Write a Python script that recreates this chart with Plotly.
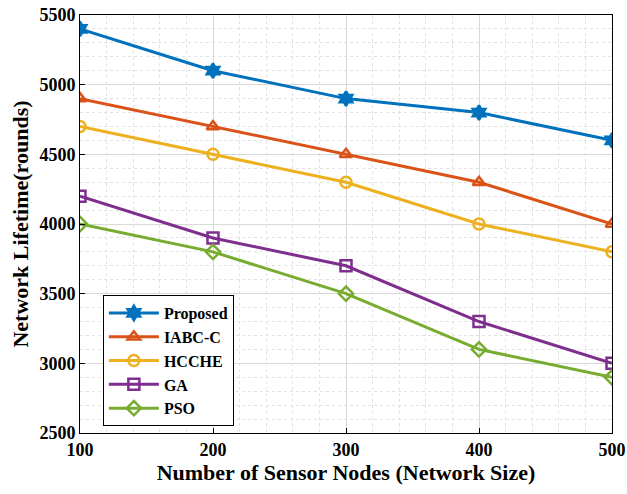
import plotly.graph_objects as go

nodes = [100, 200, 300, 400, 500]
proposed = [5400, 5100, 4900, 4800, 4600]
iabc_c = [4900, 4700, 4500, 4300, 4000]
hcche = [4700, 4500, 4300, 4000, 3800]
ga = [4200, 3900, 3700, 3300, 3000]
pso = [4000, 3800, 3500, 3100, 2900]

series = [
    ("Proposed", proposed, "#0072BD", "hexagram"),
    ("IABC-C", iabc_c, "#D95319", "triangle-up-open"),
    ("HCCHE", hcche, "#EDB120", "circle-open"),
    ("GA", ga, "#7E2F8E", "square-open"),
    ("PSO", pso, "#77AC30", "diamond-open"),
]

font = "Liberation Serif"
fig = go.Figure()
for name, vals, color, symbol in series:
    fig.add_trace(go.Scatter(
        x=nodes, y=vals, name=name, mode="lines+markers",
        line=dict(color=color, width=3),
        marker=dict(symbol=symbol, size=11, color=color,
                    line=dict(color=color, width=2.5)),
    ))

axis_common = dict(
    showline=True, linecolor="black", linewidth=1, mirror=True,
    ticks="inside", ticklen=5, tickcolor="black",
    showgrid=True, gridcolor="#d9d9d9", gridwidth=1,
    zeroline=False, automargin=False,
    tickfont=dict(family=font, size=18, color="black", weight="bold"),
)
fig.update_xaxes(
    range=[100, 500], tickvals=[100, 200, 300, 400, 500],
    title=dict(text="<b>Number of Sensor Nodes (Network Size)</b>",
               font=dict(family=font, size=22, color="black"), standoff=4),
    minor=dict(dtick=20, showgrid=True, gridcolor="#e2e2e2", griddash="dot", gridwidth=1),
    **axis_common,
)
fig.update_yaxes(
    range=[2500, 5500], tickvals=[2500, 3000, 3500, 4000, 4500, 5000, 5500],
    title=dict(text="<b>Network Lifetime(rounds)</b>",
               font=dict(family=font, size=22, color="black"), standoff=4),
    minor=dict(dtick=100, showgrid=True, gridcolor="#e2e2e2", griddash="dot", gridwidth=1),
    **axis_common,
)
fig.update_layout(
    width=627, height=494,
    margin=dict(l=80, r=15, t=15, b=61),
    plot_bgcolor="white", paper_bgcolor="white",
    showlegend=True,
    legend=dict(
        x=0.043, y=0.33, xanchor="left", yanchor="top",
        bgcolor="white", bordercolor="black", borderwidth=1,
        font=dict(family=font, size=16, color="black", weight="bold"),
        itemwidth=50, tracegroupgap=0,
    ),
)
fig.write_html("out.html")
